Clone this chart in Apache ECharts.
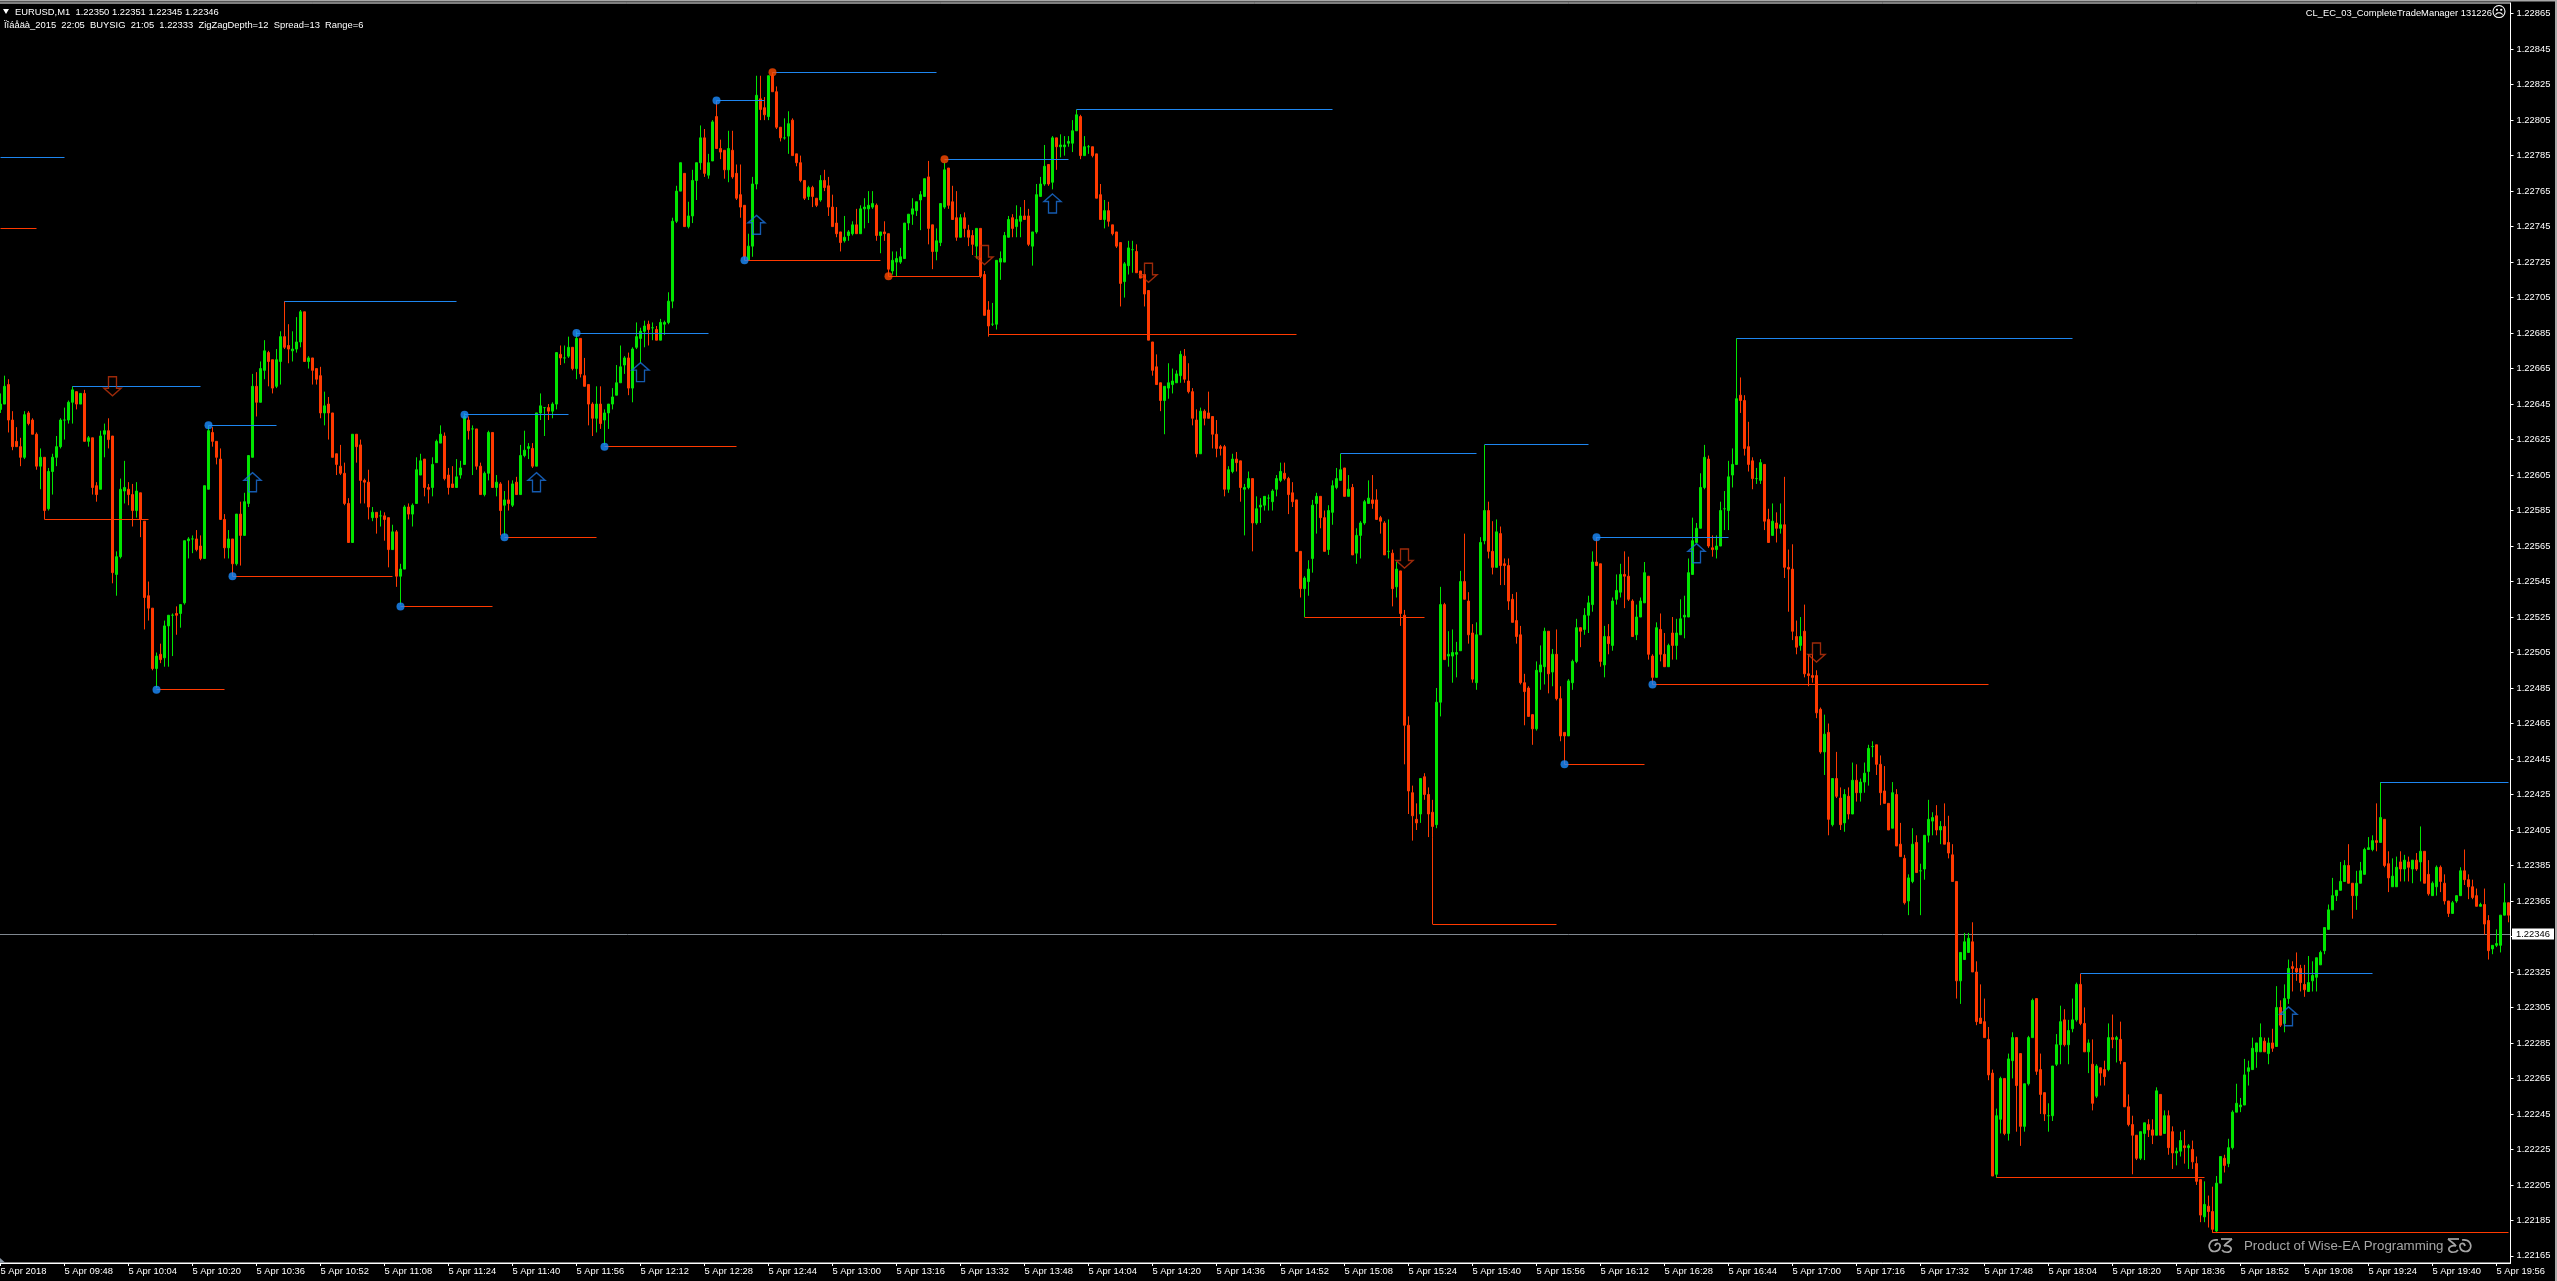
<!DOCTYPE html>
<html><head><meta charset="utf-8">
<style>html,body{margin:0;padding:0;background:#000;overflow:hidden}#c{width:2557px;height:1281px}</style>
<script src="https://cdn.jsdelivr.net/npm/echarts@6/dist/echarts.min.js"></script>
</head><body><div id="c"></div>
<script>
// Prices are given in points above priceBase (1 point = 0.00001).
const priceBase = 1.22;
const opens = [
642,645,656,636,624,621,615,640,636,628,
610,615,586,607,615,621,636,636,646,652,
645,651,624,626,599,597,628,630,627,549,
559,596,597,594,585,595,579,537,530,496,
504,502,520,526,527,527,533,568,569,569,
565,558,597,629,624,614,580,564,569,555,
583,571,589,615,655,646,664,674,670,655,
669,683,678,675,676,680,697,669,671,665,
661,640,645,640,617,610,606,589,567,628,
622,602,601,581,584,582,582,581,563,573,
548,552,587,583,589,605,614,598,598,612,
623,627,605,600,598,605,611,636,631,631,
610,594,606,629,598,600,588,591,588,601,
594,616,620,620,610,640,643,643,641,645,
673,671,672,677,665,682,661,656,645,637,
645,636,640,645,650,657,667,671,654,677,
682,686,690,688,687,681,690,691,703,748,
765,775,745,751,771,781,795,774,782,807,
789,788,777,788,775,763,757,726,734,769,
817,812,807,830,821,801,795,796,805,786,
781,771,762,767,761,760,771,768,756,747,
742,737,740,741,746,741,755,755,756,757,
740,742,741,720,725,725,727,747,752,754,
760,762,773,746,731,736,756,778,759,750,
739,750,743,740,734,744,718,698,690,690,
725,725,739,750,745,748,751,751,734,742,
762,769,780,770,795,790,790,792,792,799,
807,785,790,790,786,763,749,754,746,742,
736,714,723,732,731,720,718,709,680,666,
657,647,654,656,657,661,672,658,652,636,
617,641,640,638,628,621,621,597,607,614,
613,597,598,603,578,587,588,592,590,597,
602,606,603,595,591,562,541,545,558,589,
593,581,563,584,598,602,609,593,598,561,
571,578,589,591,591,581,578,562,561,542,
551,526,464,426,411,414,435,425,415,408,
477,532,503,503,504,506,545,534,516,488,
515,568,585,562,553,572,555,554,535,523,
515,488,485,470,462,494,497,517,494,504,
479,460,458,488,500,519,518,526,532,556,
555,498,514,509,535,539,549,548,534,515,
525,533,548,503,491,518,504,497,516,509,
515,525,525,549,567,575,598,614,564,563,
565,586,585,605,611,650,647,621,613,603,
602,611,580,571,578,575,577,553,552,514,
509,517,493,492,492,473,449,460,408,434,
423,409,424,414,433,426,432,438,452,453,
442,427,420,406,425,397,389,365,376,398,
382,383,402,410,413,405,407,398,391,376,
320,332,336,342,325,299,297,287,268,211,
242,265,234,275,288,279,238,262,288,310,
270,257,244,244,273,284,298,284,293,298,
318,296,280,273,255,271,270,270,288,287,
287,274,249,239,233,220,234,239,236,233,
256,234,244,235,223,224,227,226,225,217,
208,187,193,190,179,206,220,217,226,246,
249,250,269,270,280,280,286,279,285,283,
305,296,310,328,327,327,318,314,320,322,
329,337,349,360,368,371,376,385,375,368,
375,380,394,394,399,398,411,386,373,373,
387,383,387,383,388,387,393,380,368,373,
384,375,365,358,365,368,382,377,373,368,
362,363,354,338,340,340,357,364];
const closes = [
645,655,636,621,621,615,639,634,628,610,
615,585,607,615,621,636,636,646,653,645,
651,624,626,598,594,627,630,625,550,559,
597,598,594,585,596,580,536,530,496,503,
501,520,526,526,526,532,568,569,569,563,
558,599,630,624,615,580,564,569,555,583,
571,590,616,655,646,665,675,669,654,670,
683,677,676,676,680,697,669,671,664,659,
640,644,640,615,611,606,589,567,628,621,
602,601,587,584,581,582,580,563,573,548,
552,587,583,588,608,613,598,597,611,624,
628,603,598,598,604,609,638,630,631,610,
594,606,629,598,601,585,591,589,600,594,
616,619,621,610,640,644,643,641,645,674,
671,671,677,665,682,662,655,645,637,645,
634,640,645,649,657,666,671,654,676,683,
686,689,687,688,681,691,691,703,748,765,
781,745,751,771,781,795,775,781,804,789,
787,777,789,773,761,756,728,734,769,819,
811,808,830,821,801,795,795,803,785,781,
771,761,767,762,757,771,767,756,745,741,
736,739,742,746,741,755,756,757,758,740,
742,741,721,726,727,728,747,752,755,759,
763,772,744,731,737,758,777,757,749,739,
750,744,739,735,744,717,695,689,690,726,
727,740,749,744,749,751,749,735,742,763,
769,779,769,795,790,791,791,793,799,808,
785,790,790,785,761,749,754,748,741,734,
713,724,733,732,719,716,707,681,664,656,
647,655,657,658,662,673,659,652,637,617,
641,637,637,628,620,620,597,608,614,612,
598,598,603,578,586,588,593,592,596,603,
607,603,594,590,562,541,547,552,588,593,
581,562,585,599,603,608,593,597,560,571,
578,590,592,589,580,579,560,562,541,552,
527,464,427,413,409,434,425,414,407,477,
532,501,504,505,505,545,535,515,490,515,
567,585,562,553,573,554,554,534,522,514,
488,483,469,462,495,498,517,493,504,479,
458,458,489,500,519,517,526,533,556,554,
500,514,510,534,540,549,548,535,514,525,
534,550,504,491,519,504,497,509,509,516,
524,526,550,568,575,598,615,565,563,565,
585,586,604,611,648,647,620,611,603,603,
612,579,567,579,575,577,553,552,517,508,
514,493,492,491,471,449,459,411,434,424,
408,425,414,433,426,432,437,451,452,442,
426,420,405,426,396,390,364,378,397,381,
382,402,411,412,405,407,397,392,376,320,
336,342,344,325,297,296,288,267,210,244,
265,234,276,288,261,238,262,288,309,269,
256,245,244,272,284,297,284,292,298,318,
296,280,285,251,272,268,266,288,287,288,
275,249,239,233,220,235,240,236,233,258,
233,244,226,223,224,230,226,227,218,207,
188,194,190,180,206,221,216,226,246,251,
250,267,271,282,285,288,280,285,282,305,
295,310,327,327,325,319,315,319,323,333,
336,350,360,368,371,376,385,375,368,375,
382,394,395,399,398,412,385,378,379,384,
383,388,384,388,383,393,375,369,375,384,
376,365,358,364,368,382,377,373,367,362,
363,352,337,340,341,357,364,357];
const highs = [
651,661,659,641,632,626,641,641,637,629,
620,615,609,617,627,637,643,647,655,652,
651,653,627,626,601,630,634,637,627,562,
603,613,601,600,601,595,579,545,530,505,
510,523,526,527,531,532,568,570,571,574,
571,599,633,632,624,620,583,574,569,583,
590,595,616,662,663,669,681,675,670,676,
686,703,690,686,694,698,697,672,671,665,
666,652,649,640,617,622,612,592,628,628,
625,603,608,587,584,585,584,581,577,574,
555,588,589,589,615,617,614,600,615,625,
633,629,609,610,614,613,640,638,633,631,
612,607,630,629,605,601,596,602,602,604,
622,630,623,623,640,651,643,645,646,674,
678,678,683,677,686,682,671,656,646,655,
655,642,645,654,667,678,672,674,677,691,
688,692,692,691,689,693,692,708,750,768,
781,775,759,777,781,802,800,786,805,816,
794,788,799,799,780,780,757,741,773,830,
830,818,830,832,824,801,806,810,806,786,
785,771,768,768,761,774,777,773,763,756,
742,751,743,748,755,757,761,765,765,758,
742,748,741,731,731,733,747,752,761,759,
765,772,782,746,744,758,781,778,768,765,
752,753,746,743,744,744,720,703,702,726,
731,742,751,752,757,756,760,755,742,769,
773,791,780,796,795,797,796,796,805,811,
808,796,791,790,786,769,760,759,746,742,
736,725,737,737,735,720,718,709,680,673,
657,655,668,665,664,675,676,668,654,642,
643,642,652,638,636,622,622,610,617,618,
613,600,607,603,593,592,593,594,597,605,
612,612,604,601,591,562,548,557,591,595,
593,585,588,602,609,617,609,605,600,575,
579,591,602,605,597,582,579,580,563,556,
551,529,469,430,420,434,437,429,422,485,
542,533,517,518,511,551,572,539,521,522,
570,622,590,579,580,576,558,558,538,539,
520,493,486,470,500,509,519,517,507,518,
486,460,490,501,524,519,530,537,562,570,
555,520,521,536,549,555,562,559,535,532,
536,556,548,504,522,527,516,510,525,524,
535,537,558,581,578,606,622,616,571,571,
590,596,613,620,682,660,650,635,615,609,
614,611,586,589,584,589,604,563,566,523,
525,532,504,504,495,474,470,465,434,449,
429,428,429,443,442,434,443,453,455,453,
447,441,420,432,428,409,391,380,406,402,
386,402,422,415,419,410,420,413,397,376,
336,347,347,353,331,318,310,294,270,248,
266,265,279,291,288,279,262,289,310,310,
279,257,251,272,290,306,304,298,310,319,
324,305,287,287,273,271,275,296,301,289,
297,274,256,244,233,235,240,242,242,260,
256,247,247,238,226,235,236,228,230,221,
208,207,199,204,210,221,222,231,247,262,
254,276,275,288,285,296,288,288,293,317,
309,318,332,331,336,329,329,334,331,333,
337,350,363,378,371,387,388,397,375,382,
387,395,401,402,420,432,411,393,389,390,
393,391,390,388,392,407,393,388,376,385,
385,380,365,365,368,384,394,380,377,372,
364,372,357,340,349,357,375,364];
const lows = [
640,645,629,619,621,610,614,633,628,608,
597,580,585,594,610,620,625,634,634,642,
645,624,621,594,590,597,615,620,544,537,
558,589,588,576,581,570,518,523,495,485,
499,497,497,503,515,519,532,558,561,562,
557,558,597,621,611,580,558,558,548,554,
554,571,587,615,638,646,659,655,651,654,
656,676,668,669,674,677,669,665,656,656,
637,633,625,615,605,605,588,567,567,612,
589,589,580,579,572,576,568,553,563,542,
532,552,580,576,589,605,593,589,593,612,
623,602,594,598,598,603,611,625,605,608,
594,593,602,598,593,571,571,585,587,594,
594,615,614,609,610,636,627,636,637,642,
667,668,671,664,659,660,655,633,627,629,
631,622,631,642,650,657,662,650,646,676,
668,677,678,681,681,681,684,690,699,747,
765,745,744,747,760,777,773,772,782,789,
783,772,770,772,760,750,726,726,728,766,
805,805,805,821,800,793,794,786,785,779,
770,760,760,756,756,759,765,751,745,739,
731,736,737,740,741,741,744,747,755,737,
730,737,717,718,717,724,727,743,746,751,
743,762,735,721,726,734,755,755,749,737,
739,739,734,729,727,716,695,683,689,687,
715,725,739,739,739,739,749,734,723,741,
762,768,768,766,777,784,785,790,787,799,
783,785,786,784,761,749,744,745,740,733,
700,705,718,719,719,716,700,681,661,656,
641,628,648,651,657,657,657,651,633,615,
617,633,637,620,615,616,593,595,606,607,
590,571,597,562,577,578,585,585,585,593,
601,602,583,587,562,536,525,537,550,572,
575,562,560,577,597,602,593,593,560,555,
558,577,589,586,580,572,560,558,531,536,
520,442,414,399,405,409,422,401,401,406,
469,501,497,488,491,506,535,510,488,484,
515,566,558,549,553,543,543,529,522,510,
487,464,469,453,461,484,487,482,486,478,
455,442,458,484,499,508,515,516,528,554,
497,491,504,506,532,536,530,534,514,512,
525,533,501,487,491,500,497,497,501,501,
515,513,525,549,567,575,597,564,559,558,
565,574,574,598,611,640,616,607,597,600,
600,574,567,571,567,572,547,528,512,504,
506,491,486,488,468,448,436,402,407,423,
405,404,411,414,421,421,426,430,446,436,
419,420,405,406,396,390,363,357,375,381,
357,377,398,402,402,397,397,389,376,310,
307,332,336,325,295,296,288,264,210,209,
234,233,230,265,235,227,235,261,288,267,
245,241,235,241,272,273,283,273,291,297,
295,280,268,247,254,261,261,269,282,274,
273,249,238,211,219,219,219,232,228,233,
233,234,222,214,216,221,217,214,214,205,
184,184,181,178,178,206,212,215,225,246,
246,250,261,270,271,280,280,273,280,283,
294,291,307,314,320,314,311,314,314,314,
329,335,349,360,365,371,376,375,355,360,
375,380,394,393,393,398,384,370,373,373,
376,376,376,375,382,376,375,368,368,368,
370,363,356,358,364,368,374,366,366,362,
362,346,332,335,339,336,357,353];

// time-axis labels, one every 16 one-minute bars
const timeLabels = ["5 Apr 2018","5 Apr 09:48","5 Apr 10:04","5 Apr 10:20","5 Apr 10:36","5 Apr 10:52","5 Apr 11:08","5 Apr 11:24","5 Apr 11:40","5 Apr 11:56","5 Apr 12:12","5 Apr 12:28","5 Apr 12:44","5 Apr 13:00","5 Apr 13:16","5 Apr 13:32","5 Apr 13:48","5 Apr 14:04","5 Apr 14:20","5 Apr 14:36","5 Apr 14:52","5 Apr 15:08","5 Apr 15:24","5 Apr 15:40","5 Apr 15:56","5 Apr 16:12","5 Apr 16:28","5 Apr 16:44","5 Apr 17:00","5 Apr 17:16","5 Apr 17:32","5 Apr 17:48","5 Apr 18:04","5 Apr 18:20","5 Apr 18:36","5 Apr 18:52","5 Apr 19:08","5 Apr 19:24","5 Apr 19:40","5 Apr 19:56"];
const priceTicks = [165,185,205,225,245,265,285,305,325,345,365,385,405,425,445,465,485,505,525,545,565,585,605,625,645,665,685,705,725,745,765,785,805,825,845,865];
const axisMinPoints = 160.5, axisMaxPoints = 870.6;
const bidPoints = 346;

// swing levels: first bar, last bar, price in points
const blueStart = [0,18,52,71,116,144,179,193,236,269,335,371,399,434,520,595];
const blueEnd   = [16,50,69,114,142,177,191,234,267,333,369,397,432,518,593,627];
const bluePrice = [784,655,633,703,639,685,816,832,783,811,617,622,570,682,324,432];
const redStart = [0,11,39,58,100,126,151,186,222,247,326,358,391,413,499,553];
const redEnd   = [9,37,56,98,123,149,184,220,245,324,356,389,411,497,551,627];
const redPrice = [744,580,484,548,531,570,621,726,717,684,525,352,442,487,209,178];
const stemBar = 358, stemFrom = 401, stemTo = 352;

// swing-point dots: bar, price in points
const blueDotBar = [39,58,52,100,126,116,144,151,179,186,391,399,413];
const blueDotPrice = [484,548,633,531,570,639,685,621,816,726,442,570,487];
const orangeDotBar = [193,222,236];
const orangeDotPrice = [832,717,783];

// signal arrows: bar, price in points
const upBar = [63,134,160,189,263,424,572];
const upPrice = [601,601,663,746,758,561,300];
const downBar = [28,246,287,351,454];
const downPrice = [655,729,719,558,505];

const px = v => +(priceBase + v/100000).toFixed(5);
const categories = opens.map((_,k)=> k%16===0 ? (timeLabels[k/16]||'') : '');
const candleData = opens.map((o,k)=>[px(o),px(closes[k]),px(lows[k]),px(highs[k])]);
const zipLevels = (a,b,p)=>a.map((s,i)=>[s,b[i],px(p[i])]);
const zipPts = (a,p)=>a.map((s,i)=>[s,px(p[i])]);

const GREEN='#00e600', RED='#ff3a00', BLUE='#1e86f0', ORANGE='#ff4a00';
const FONT='"Liberation Sans"';

function levelSeries(data,color){
  return {type:'custom',coordinateSystem:'cartesian2d',z:5,silent:true,
    dimensions:[{name:'a',type:'number'},{name:'b',type:'number'},{name:'p',type:'number'}],
    encode:{x:[0,1],y:2},data,
    renderItem(params,api){
      const a=api.coord([api.value(0),api.value(2)]), b=api.coord([api.value(1),api.value(2)]);
      const y=Math.round(a[1]-0.5)+0.5;
      return {type:'line',shape:{x1:Math.max(a[0],0),y1:y,x2:b[0],y2:y},style:{stroke:color,lineWidth:1,fill:null}};
    }};
}
const arrowUp='path://M8.5 0 L17 7.5 L12.5 7.5 L12.5 19 L4.5 19 L4.5 7.5 L0 7.5 Z';
const arrowDown='path://M4.5 0 L12.5 0 L12.5 11.5 L17 11.5 L8.5 19 L0 11.5 L4.5 11.5 Z';

// ornament strokes around the watermark
const curlA=[[10,2,2,1,0,7,2,11],[2,11,4,15,11,14,12,9],[12,9,13,5,8,4,7,8],[13,1,17,1,21,1,24,1],[24,1,21,4,18,5,16,8],[16,8,20,7,24,9,23,12],[23,12,22,15,16,15,14,12]];
const ornament=(x,y,sx)=>({type:'group',x,y,scaleX:sx,silent:true,z:50,children:curlA.map(c=>({type:'bezierCurve',silent:true,z:50,
  shape:{x1:c[0],y1:c[1],cpx1:c[2],cpy1:c[3],cpx2:c[4],cpy2:c[5],x2:c[6],y2:c[7]},style:{stroke:'#a6a6a6',lineWidth:1.7,fill:null}}))});

const chart=echarts.init(document.getElementById('c'),null,{renderer:'canvas',width:2557,height:1281});
const txt=(x,y,text,opt={})=>({type:'text',x,y,silent:true,z:50,style:Object.assign({text,fill:'#fff',font:'9.4px '+FONT,textVerticalAlign:'middle',textAlign:'left'},opt)});
chart.setOption({
  animation:false,backgroundColor:'#000',
  grid:{left:-1.5,width:2512,top:3,height:1260,show:true,borderColor:'#fff',borderWidth:1,backgroundColor:'#000',containLabel:false,outerBoundsMode:'none'},
  tooltip:{show:false},
  xAxis:{type:'category',data:categories,boundaryGap:true,
    axisLine:{show:true,lineStyle:{color:'#fff',width:1}},
    axisTick:{show:true,alignWithLabel:true,interval:15,length:3,lineStyle:{color:'#fff'}},
    axisLabel:{interval:15,hideOverlap:false,color:'#fff',align:'left',margin:4,fontFamily:FONT,fontSize:9.4},
    splitLine:{show:false}},
  yAxis:{type:'value',position:'right',min:px(axisMinPoints),max:px(axisMaxPoints),scale:true,
    axisLine:{show:true,lineStyle:{color:'#fff',width:1}},
    axisTick:{show:true,length:3,lineStyle:{color:'#fff'},customValues:priceTicks.map(px)},
    axisLabel:{customValues:priceTicks.map(px),color:'#fff',margin:6,fontFamily:FONT,fontSize:9.4,formatter:v=>v.toFixed(5)},
    splitLine:{show:false}},
  series:[
    {type:'custom',z:1,silent:true,dimensions:[{name:'p',type:'number'}],encode:{y:0},data:[[px(bidPoints)]],
     renderItem(params,api){
       const a=api.coord([0,api.value(0)]);const y=Math.round(a[1]-0.5)+0.5;
       return {type:'group',children:[
         {type:'line',shape:{x1:0,y1:y,x2:2510,y2:y},style:{stroke:'#808890',lineWidth:1,fill:null}},
         {type:'rect',shape:{x:2512,y:y-6,width:42,height:11},style:{fill:'#fff'}},
         {type:'text',x:2516,y:y,style:{text:px(bidPoints).toFixed(5),fill:'#000',font:'9.4px '+FONT,textVerticalAlign:'middle'}}
       ]};
     }},
    {type:'candlestick',z:3,silent:true,large:false,data:candleData,barWidth:2,
     itemStyle:{color:GREEN,color0:RED,borderColor:GREEN,borderColor0:RED,borderColorDoji:GREEN,borderWidth:1}},
    levelSeries(zipLevels(blueStart,blueEnd,bluePrice),BLUE),
    levelSeries(zipLevels(redStart,redEnd,redPrice),RED),
    {type:'line',z:5,silent:true,symbol:'none',lineStyle:{color:RED,width:1},data:[[stemBar,px(stemFrom)],[stemBar,px(stemTo)]]},
    {type:'scatter',z:7,silent:true,symbol:'circle',symbolSize:8,itemStyle:{color:'#1b8cff'},data:zipPts(blueDotBar,blueDotPrice)},
    {type:'scatter',z:7,silent:true,symbol:'circle',symbolSize:8,itemStyle:{color:ORANGE},data:zipPts(orangeDotBar,orangeDotPrice)},
    {type:'scatter',z:8,silent:true,symbol:arrowUp,symbolSize:[17,19],symbolKeepAspect:false,itemStyle:{color:'rgba(0,0,0,0)',borderColor:'#1a72dc',borderWidth:1.4},data:zipPts(upBar,upPrice)},
    {type:'scatter',z:8,silent:true,symbol:arrowDown,symbolSize:[17,19],symbolKeepAspect:false,itemStyle:{color:'rgba(0,0,0,0)',borderColor:'#c4340c',borderWidth:1.4},data:zipPts(downBar,downPrice)}
  ],
  graphic:[
    {type:'rect',silent:true,z:40,shape:{x:0,y:0,width:2557,height:1.5},style:{fill:'#a8a8a8'}},
    {type:'rect',silent:true,z:40,shape:{x:2555,y:0,width:2,height:1281},style:{fill:'#a8a8a8'}},
    {type:'polygon',silent:true,z:40,shape:{points:[[3,9],[9,9],[6,14]]},style:{fill:'#fff'}},
    {type:'polygon',silent:true,z:40,shape:{points:[[0,1258],[5,1262.5],[0,1262.5]]},style:{fill:'#8a97a6'}},
    txt(15,12,'EURUSD,M1  1.22350 1.22351 1.22345 1.22346'),
    txt(4,25,'Ïîáåäà_2015  22:05  BUYSIG  21:05  1.22333  ZigZagDepth=12  Spread=13  Range=6'),
    txt(2492,13,'CL_EC_03_CompleteTradeManager 131226',{textAlign:'right'}),
    txt(2499,13,'☹',{font:'15px "DejaVu Sans"',textAlign:'center'}),
    txt(2244,1246,'Product of Wise-EA Programming',{fill:'#a6a6a6',font:'13.3px '+FONT}),
    ornament(2208,1238,1),
    ornament(2472,1238,-1)
  ]
});
</script></body></html>
